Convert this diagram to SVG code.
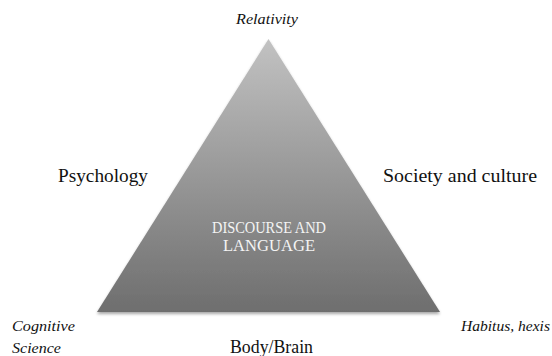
<svg xmlns="http://www.w3.org/2000/svg" width="552" height="356" viewBox="0 0 552 356">
<defs>
<linearGradient id="g" x1="0" y1="0" x2="0" y2="1">
<stop offset="0" stop-color="#c2c2c2"/>
<stop offset="1" stop-color="#6e6e6e"/>
</linearGradient>
<filter id="sh" x="-10%" y="-10%" width="120%" height="125%">
<feGaussianBlur in="SourceAlpha" stdDeviation="1.5"/>
<feOffset dy="2" result="b"/>
<feComponentTransfer><feFuncA type="linear" slope="0.35"/></feComponentTransfer>
<feMerge><feMergeNode/><feMergeNode in="SourceGraphic"/></feMerge>
</filter>
</defs>
<style>
text{font-family:"Liberation Serif","DejaVu Serif",serif;fill:#111}
.it{font-style:italic;font-size:15px}
.lb{font-size:19.5px}
.c{font-size:17px;fill:#f4f4f4;text-anchor:middle}
</style>
<rect width="552" height="356" fill="#fff"/>
<g id="triangle">
<polygon points="268.5,39 97,312 440,312" fill="url(#g)" filter="url(#sh)"/>
<text class="c" x="269" y="233" textLength="114" lengthAdjust="spacingAndGlyphs">DISCOURSE AND</text>
<text class="c" x="269" y="251" textLength="92" lengthAdjust="spacingAndGlyphs">LANGUAGE</text>
</g>
<g id="relativity"><text class="it" x="236" y="24" textLength="62" lengthAdjust="spacingAndGlyphs">Relativity</text></g>
<g id="psychology"><text class="lb" x="58" y="182" textLength="90" lengthAdjust="spacingAndGlyphs">Psychology</text></g>
<g id="society"><text class="lb" x="383" y="182" textLength="154" lengthAdjust="spacingAndGlyphs">Society and culture</text></g>
<g id="cognitive"><text class="it" x="12" y="331" textLength="63" lengthAdjust="spacingAndGlyphs">Cognitive</text><text class="it" x="12" y="353" textLength="49" lengthAdjust="spacingAndGlyphs">Science</text></g>
<g id="habitus"><text class="it" x="461" y="331" textLength="89" lengthAdjust="spacingAndGlyphs">Habitus, hexis</text></g>
<g id="body"><text class="lb" x="230" y="353" textLength="83" lengthAdjust="spacingAndGlyphs">Body/Brain</text></g>
<g id="connectors"/>
</svg>
